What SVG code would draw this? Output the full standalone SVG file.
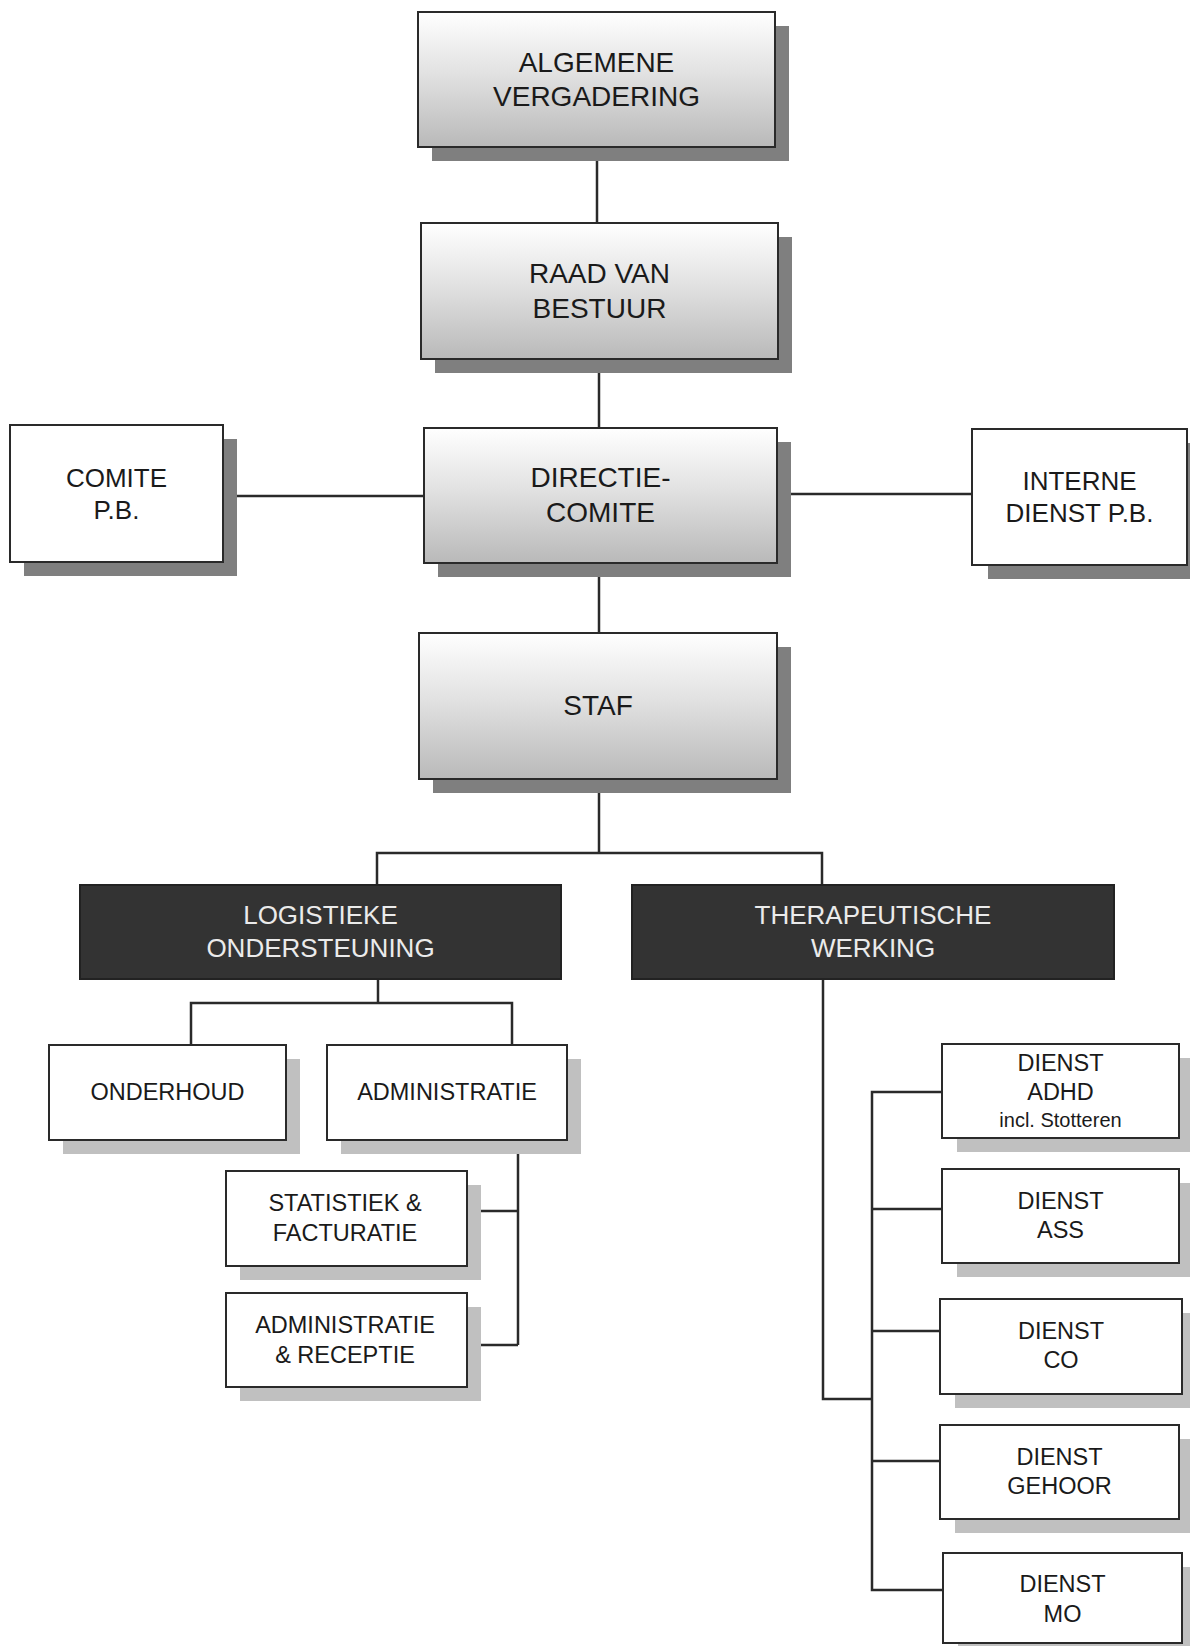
<svg xmlns="http://www.w3.org/2000/svg" width="1190" height="1646" viewBox="0 0 1190 1646">
<defs>
<linearGradient id="grad" x1="0" y1="0" x2="0" y2="1">
<stop offset="0" stop-color="#ffffff"/>
<stop offset="0.45" stop-color="#e2e2e2"/>
<stop offset="1" stop-color="#b9b9b9"/>
</linearGradient>
<style>
.g{fill:url(#grad);stroke:#2a2a2a;stroke-width:2}
.w{fill:#ffffff;stroke:#2a2a2a;stroke-width:2}
.d{fill:#333333;stroke:#222222;stroke-width:2}
.sd{fill:#7f7f7f}
.sl{fill:#c0c0c0}
.t{font-family:"Liberation Sans",Arial,sans-serif;text-anchor:middle;fill:#1a1a1a}
.big{font-size:28px}
.mid{font-size:26px}
.sm{font-size:23.5px}
.xs{font-size:20px}
.lt{fill:#ebebeb}
.c{fill:none;stroke:#2a2a2a;stroke-width:2.5}
</style>
</defs>
<rect width="1190" height="1646" fill="#ffffff"/>

<g id="connectors">
<path class="c" d="M597 147V223"/>
<path class="c" d="M599 359V428"/>
<path class="c" d="M599 563V633"/>
<path class="c" d="M224 496H424"/>
<path class="c" d="M777 494H972"/>
<path class="c" d="M599 779V853"/>
<path class="c" d="M377 885V853H822V885"/>
<path class="c" d="M378 979V1003"/>
<path class="c" d="M191 1045V1003H512V1045"/>
<path class="c" d="M518 1140V1345"/>
<path class="c" d="M481 1211H518"/>
<path class="c" d="M481 1345H518"/>
<path class="c" d="M823 979V1399H872"/>
<path class="c" d="M942 1092H872V1590H943"/>
<path class="c" d="M872 1209H942"/>
<path class="c" d="M872 1331H940"/>
<path class="c" d="M872 1461H940"/>
</g>

<g id="algemene-vergadering">
<rect class="sd" x="432" y="26" width="357" height="135"/>
<rect class="g" x="418" y="12" width="357" height="135"/>
<text class="t big" x="596.5" y="72">ALGEMENE</text>
<text class="t big" x="596.5" y="106">VERGADERING</text>
</g>

<g id="raad-van-bestuur">
<rect class="sd" x="435" y="237" width="357" height="136"/>
<rect class="g" x="421" y="223" width="357" height="136"/>
<text class="t big" x="599.5" y="283">RAAD VAN</text>
<text class="t big" x="599.5" y="318">BESTUUR</text>
</g>

<g id="comite-pb">
<rect class="sd" x="24" y="439" width="213" height="137"/>
<rect class="w" x="10" y="425" width="213" height="137"/>
<text class="t mid" x="116.5" y="487">COMITE</text>
<text class="t mid" x="116.5" y="519">P.B.</text>
</g>

<g id="directie-comite">
<rect class="sd" x="438" y="442" width="353" height="135"/>
<rect class="g" x="424" y="428" width="353" height="135"/>
<text class="t big" x="600.5" y="487">DIRECTIE-</text>
<text class="t big" x="600.5" y="522">COMITE</text>
</g>

<g id="interne-dienst-pb">
<rect class="sd" x="988" y="443" width="215" height="136"/>
<rect class="w" x="972" y="429" width="215" height="136"/>
<text class="t mid" x="1079.5" y="490">INTERNE</text>
<text class="t mid" x="1079.5" y="522">DIENST P.B.</text>
</g>

<g id="staf">
<rect class="sd" x="433" y="647" width="358" height="146"/>
<rect class="g" x="419" y="633" width="358" height="146"/>
<text class="t big" x="598" y="715">STAF</text>
</g>

<g id="logistieke-ondersteuning">
<rect class="d" x="80" y="885" width="481" height="94"/>
<text class="t mid lt" x="320.5" y="924">LOGISTIEKE</text>
<text class="t mid lt" x="320.5" y="957">ONDERSTEUNING</text>
</g>

<g id="therapeutische-werking">
<rect class="d" x="632" y="885" width="482" height="94"/>
<text class="t mid lt" x="873" y="924">THERAPEUTISCHE</text>
<text class="t mid lt" x="873" y="957">WERKING</text>
</g>

<g id="onderhoud">
<rect class="sl" x="63" y="1059" width="237" height="95"/>
<rect class="w" x="49" y="1045" width="237" height="95"/>
<text class="t sm" x="167.5" y="1100">ONDERHOUD</text>
</g>

<g id="administratie">
<rect class="sl" x="341" y="1059" width="240" height="95"/>
<rect class="w" x="327" y="1045" width="240" height="95"/>
<text class="t sm" x="447" y="1100">ADMINISTRATIE</text>
</g>

<g id="statistiek-facturatie">
<rect class="sl" x="240" y="1185" width="241" height="95"/>
<rect class="w" x="226" y="1171" width="241" height="95"/>
<text class="t sm" x="345" y="1211">STATISTIEK &amp;</text>
<text class="t sm" x="345" y="1241">FACTURATIE</text>
</g>

<g id="administratie-receptie">
<rect class="sl" x="240" y="1307" width="241" height="94"/>
<rect class="w" x="226" y="1293" width="241" height="94"/>
<text class="t sm" x="345" y="1333">ADMINISTRATIE</text>
<text class="t sm" x="345" y="1363">&amp; RECEPTIE</text>
</g>

<g id="dienst-adhd">
<rect class="sl" x="957" y="1058" width="237" height="94"/>
<rect class="w" x="942" y="1044" width="237" height="94"/>
<text class="t sm" x="1060.5" y="1071">DIENST</text>
<text class="t sm" x="1060.5" y="1100">ADHD</text>
<text class="t xs" x="1060.5" y="1127">incl. Stotteren</text>
</g>

<g id="dienst-ass">
<rect class="sl" x="957" y="1183" width="237" height="94"/>
<rect class="w" x="942" y="1169" width="237" height="94"/>
<text class="t sm" x="1060.5" y="1209">DIENST</text>
<text class="t sm" x="1060.5" y="1238">ASS</text>
</g>

<g id="dienst-co">
<rect class="sl" x="955" y="1313" width="242" height="95"/>
<rect class="w" x="940" y="1299" width="242" height="95"/>
<text class="t sm" x="1061" y="1339">DIENST</text>
<text class="t sm" x="1061" y="1368">CO</text>
</g>

<g id="dienst-gehoor">
<rect class="sl" x="955" y="1439" width="239" height="94"/>
<rect class="w" x="940" y="1425" width="239" height="94"/>
<text class="t sm" x="1059.5" y="1465">DIENST</text>
<text class="t sm" x="1059.5" y="1494">GEHOOR</text>
</g>

<g id="dienst-mo">
<rect class="sl" x="958" y="1567" width="239" height="90"/>
<rect class="w" x="943" y="1553" width="239" height="90"/>
<text class="t sm" x="1062.5" y="1592">DIENST</text>
<text class="t sm" x="1062.5" y="1622">MO</text>
</g>
</svg>
